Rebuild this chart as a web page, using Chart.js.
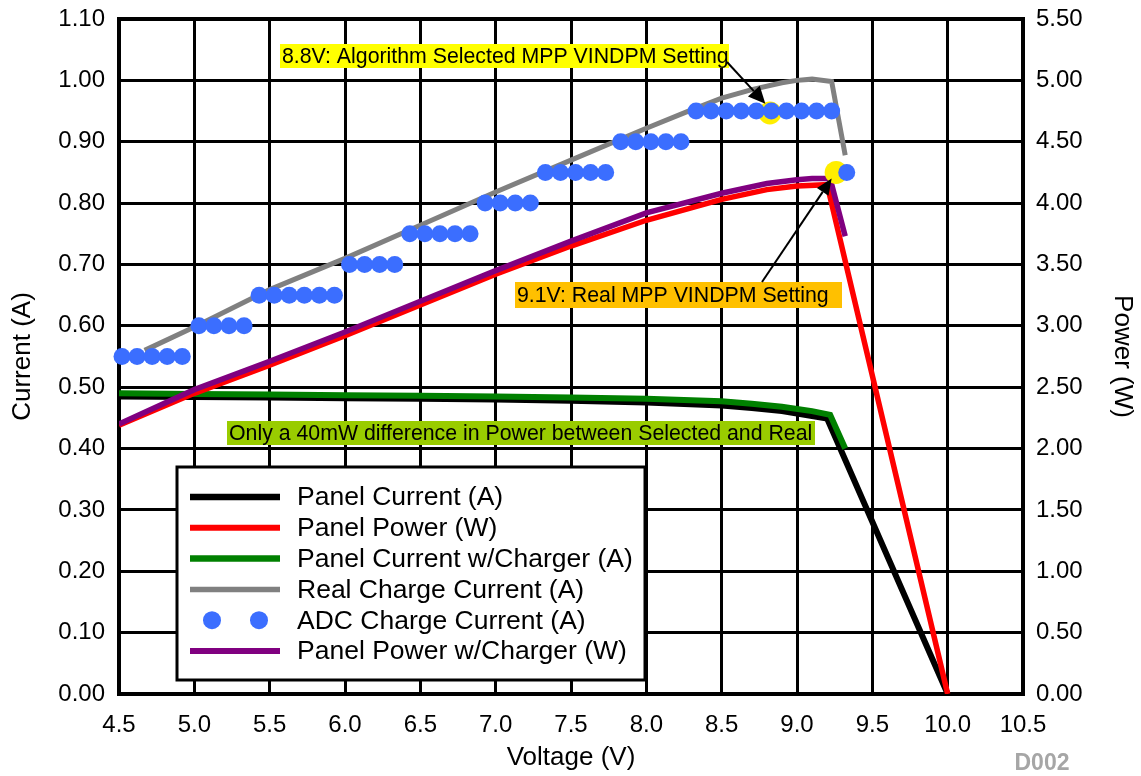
<!DOCTYPE html>
<html>
<head>
<meta charset="utf-8">
<script src="https://cdn.jsdelivr.net/npm/chart.js@4.4.1/dist/chart.umd.min.js"></script>
<style>
html, body { margin: 0; padding: 0; background: #ffffff; }
canvas { display: block; }
</style>
</head>
<body>
<canvas id="chart" width="1141" height="776"></canvas>
<script>
const FONT = "'Liberation Sans', Arial, Helvetica, sans-serif";

// ---- tick labels ----
const voltageTicks = ['4.5', '5.0', '5.5', '6.0', '6.5', '7.0', '7.5', '8.0', '8.5', '9.0', '9.5', '10.0', '10.5'];
const currentTicks = ['0.00', '0.10', '0.20', '0.30', '0.40', '0.50', '0.60', '0.70', '0.80', '0.90', '1.00', '1.10'];
const powerTicks = ['0.00', '0.50', '1.00', '1.50', '2.00', '2.50', '3.00', '3.50', '4.00', '4.50', '5.00', '5.50'];

// ---- Panel Current (A) ----
const panelCurrentV = [4.5, 5.0, 5.5, 6.0, 6.5, 7.0, 7.5, 8.0, 8.5, 8.7, 8.9, 9.1, 9.2, 10.0];
const panelCurrentA = [0.485, 0.484, 0.483, 0.482, 0.481, 0.480, 0.478, 0.475, 0.470, 0.466, 0.461, 0.453, 0.449, 0.0];

// ---- Panel Power (W) ----
const panelPowerV = [4.5, 5.0, 5.5, 6.0, 6.5, 7.0, 7.5, 8.0, 8.5, 8.8, 9.0, 9.2, 10.0];
const panelPowerW = [2.19, 2.45, 2.68, 2.92, 3.17, 3.42, 3.65, 3.86, 4.03, 4.11, 4.14, 4.15, 0.0];

// ---- Panel Current w/Charger (A) ----
const chgCurrentV = [4.5, 5.0, 5.5, 6.0, 6.5, 7.0, 7.5, 8.0, 8.5, 8.7, 8.9, 9.1, 9.22, 9.32];
const chgCurrentA = [0.490, 0.489, 0.488, 0.487, 0.486, 0.485, 0.483, 0.481, 0.477, 0.473, 0.468, 0.461, 0.455, 0.400];

// ---- Real Charge Current (A) ----
const realChargeV = [4.67, 5.0, 5.5, 6.0, 6.5, 7.0, 7.5, 8.0, 8.3, 8.5, 8.7, 8.9, 9.0, 9.1, 9.23, 9.32];
const realChargeA = [0.560, 0.598, 0.659, 0.710, 0.764, 0.818, 0.870, 0.922, 0.952, 0.971, 0.985, 0.996, 1.000, 1.002, 0.998, 0.878];

// ---- ADC Charge Current (A) ----
const adcV = [4.52, 4.62, 4.72, 4.82, 4.92,
              5.03, 5.13, 5.23, 5.33,
              5.43, 5.53, 5.63, 5.73, 5.83, 5.93,
              6.03, 6.13, 6.23, 6.33,
              6.43, 6.53, 6.63, 6.73, 6.83,
              6.93, 7.03, 7.13, 7.23,
              7.33, 7.43, 7.53, 7.63, 7.73,
              7.83, 7.93, 8.03, 8.13, 8.23,
              8.33, 8.43, 8.53, 8.63, 8.73, 8.83, 8.93, 9.03, 9.13, 9.23,
              9.33];
const adcA = [0.55, 0.55, 0.55, 0.55, 0.55,
              0.60, 0.60, 0.60, 0.60,
              0.65, 0.65, 0.65, 0.65, 0.65, 0.65,
              0.70, 0.70, 0.70, 0.70,
              0.75, 0.75, 0.75, 0.75, 0.75,
              0.80, 0.80, 0.80, 0.80,
              0.85, 0.85, 0.85, 0.85, 0.85,
              0.90, 0.90, 0.90, 0.90, 0.90,
              0.95, 0.95, 0.95, 0.95, 0.95, 0.95, 0.95, 0.95, 0.95, 0.95,
              0.85];

// ---- Panel Power w/Charger (W) ----
const chgPowerV = [4.5, 5.0, 5.5, 6.0, 6.5, 7.0, 7.5, 8.0, 8.5, 8.8, 9.0, 9.1, 9.22, 9.32];
const chgPowerW = [2.20, 2.48, 2.71, 2.95, 3.20, 3.45, 3.69, 3.92, 4.08, 4.16, 4.19, 4.20, 4.20, 3.73];

// ---- highlighted MPP setting points (A) ----
const mppV = [8.82, 9.26];
const mppA = [0.947, 0.850];

// ---- annotation texts ----
const noteSelected = '8.8V: Algorithm Selected MPP VINDPM Setting';
const noteReal = '9.1V: Real MPP VINDPM Setting';
const noteDiff = 'Only a 40mW difference in Power between Selected and Real';
const selectedArrowTip = [8.79, 0.962];
const realArrowTip = [9.23, 0.840];

const pts = (xs, ys) => xs.map((x, i) => ({ x: x, y: ys[i] }));

const datasets = [
  { label: 'Panel Current (A)', data: pts(panelCurrentV, panelCurrentA), yAxisID: 'y',
    borderColor: '#000000', borderWidth: 6, pointRadius: 0, order: 7, legendKind: 'line' },
  { label: 'Panel Power (W)', data: pts(panelPowerV, panelPowerW), yAxisID: 'y1',
    borderColor: '#FF0000', borderWidth: 5.5, pointRadius: 0, order: 4, legendKind: 'line' },
  { label: 'Panel Current w/Charger (A)', data: pts(chgCurrentV, chgCurrentA), yAxisID: 'y',
    borderColor: '#008000', borderWidth: 6, pointRadius: 0, order: 6, legendKind: 'line' },
  { label: 'Real Charge Current (A)', data: pts(realChargeV, realChargeA), yAxisID: 'y',
    borderColor: '#808080', borderWidth: 5, pointRadius: 0, order: 5, legendKind: 'line' },
  { label: 'ADC Charge Current (A)', data: pts(adcV, adcA), yAxisID: 'y',
    showLine: false, pointRadius: 8.5, pointBackgroundColor: '#3B6EFF', pointBorderWidth: 0,
    pointBorderColor: '#3B6EFF', borderColor: '#3B6EFF', backgroundColor: '#3B6EFF', order: 1, clip: 14, legendKind: 'dot' },
  { label: 'Panel Power w/Charger (W)', data: pts(chgPowerV, chgPowerW), yAxisID: 'y1',
    borderColor: '#800080', borderWidth: 5.5, pointRadius: 0, order: 3, legendKind: 'line' },
  { label: 'MPP settings', data: pts(mppV, mppA), yAxisID: 'y',
    showLine: false, pointRadius: 11.5, pointBackgroundColor: '#FFEE00', pointBorderWidth: 0,
    borderColor: '#FFEE00', order: 2, clip: 14, legendKind: 'none' }
];
datasets.forEach(d => { d.tension = 0; d.fill = false; d.pointHoverRadius = d.pointRadius; });

const framePlugin = {
  id: 'frame',
  beforeDatasetsDraw(chart) {
    const { ctx, chartArea: a } = chart;
    ctx.save();
    ctx.strokeStyle = '#000000';
    ctx.lineWidth = 4;
    ctx.strokeRect(a.left, a.top, a.right - a.left, a.bottom - a.top);
    ctx.restore();
  }
};

function arrow(ctx, x0, y0, x1, y1, lw, headLen, headHalf) {
  const ang = Math.atan2(y1 - y0, x1 - x0);
  const bx = x1 - headLen * Math.cos(ang), by = y1 - headLen * Math.sin(ang);
  ctx.beginPath();
  ctx.moveTo(x0, y0);
  ctx.lineTo(bx, by);
  ctx.lineWidth = lw;
  ctx.strokeStyle = '#000000';
  ctx.stroke();
  ctx.beginPath();
  ctx.moveTo(x1, y1);
  ctx.lineTo(bx + headHalf * Math.sin(ang), by - headHalf * Math.cos(ang));
  ctx.lineTo(bx - headHalf * Math.sin(ang), by + headHalf * Math.cos(ang));
  ctx.closePath();
  ctx.fillStyle = '#000000';
  ctx.fill();
}

const overlayPlugin = {
  id: 'overlay',
  afterDraw(chart) {
    const ctx = chart.ctx;
    const sx = chart.scales.x, sy = chart.scales.y;
    ctx.save();

    // legend box
    const L = { x: 177, y: 467, w: 468, h: 213 };
    ctx.fillStyle = '#ffffff';
    ctx.fillRect(L.x, L.y, L.w, L.h);
    ctx.lineWidth = 3;
    ctx.strokeStyle = '#000000';
    ctx.strokeRect(L.x, L.y, L.w, L.h);
    ctx.font = '26.5px ' + FONT;
    ctx.textBaseline = 'middle';
    ctx.textAlign = 'left';
    let row = 0;
    chart.data.datasets.forEach(d => {
      if (d.legendKind === 'none') return;
      const yy = 497 + 30.8 * row;
      if (d.legendKind === 'dot') {
        ctx.fillStyle = d.pointBackgroundColor;
        [212, 259].forEach(cx => { ctx.beginPath(); ctx.arc(cx, yy, 9, 0, Math.PI * 2); ctx.fill(); });
      } else {
        ctx.beginPath();
        ctx.moveTo(190, yy);
        ctx.lineTo(280, yy);
        ctx.lineWidth = d.borderWidth + 0.5;
        ctx.strokeStyle = d.borderColor;
        ctx.stroke();
      }
      ctx.fillStyle = '#000000';
      ctx.fillText(d.label, 297, yy + 1);
      row++;
    });

    // annotation boxes
    ctx.font = '21.3px ' + FONT;
    const boxes = [
      { t: noteSelected, x: 280, y: 44, w: 449, h: 24, c: '#FFFF00' },
      { t: noteReal, x: 515, y: 282, w: 327, h: 26, c: '#FFC000' },
      { t: noteDiff, x: 227, y: 421, w: 588, h: 24, c: '#99CC00' }
    ];
    boxes.forEach(b => {
      ctx.fillStyle = b.c;
      ctx.fillRect(b.x, b.y, b.w, b.h);
      ctx.fillStyle = '#000000';
      ctx.fillText(b.t, b.x + 2, b.y + b.h / 2 + 1);
    });

    // arrows
    arrow(ctx, 727, 62, sx.getPixelForValue(selectedArrowTip[0]), sy.getPixelForValue(selectedArrowTip[1]), 2, 17, 8);
    arrow(ctx, 762, 282, sx.getPixelForValue(realArrowTip[0]), sy.getPixelForValue(realArrowTip[1]), 2, 16, 7);

    // figure id
    ctx.font = 'bold 23px ' + FONT;
    ctx.fillStyle = '#A6A6A6';
    ctx.textAlign = 'center';
    ctx.fillText('D002', 1042, 764);
    ctx.restore();
  }
};

const tickFont = { family: FONT, size: 24 };
const titleFont = { family: FONT, size: 26 };

new Chart(document.getElementById('chart'), {
  type: 'line',
  data: { datasets: datasets },
  options: {
    responsive: false,
    animation: false,
    devicePixelRatio: 1,
    layout: { padding: { top: 19, left: 0, right: 0, bottom: 0 } },
    plugins: { legend: { display: false }, tooltip: { enabled: false } },
    events: [],
    scales: {
      x: {
        type: 'linear', position: 'bottom', min: 4.5, max: 10.5,
        ticks: { stepSize: 0.5, autoSkip: false, maxRotation: 0, padding: 17, color: '#000', font: tickFont,
                 callback: (v, i) => voltageTicks[i] },
        grid: { color: '#000000', lineWidth: 3, drawTicks: false },
        border: { display: false },
        title: { display: true, text: 'Voltage (V)', color: '#000', font: titleFont, padding: { top: 0, bottom: 3 } },
        afterFit: s => { s.height = 82; s.paddingLeft = 0; s.paddingRight = 0; }
      },
      y: {
        type: 'linear', position: 'left', min: 0, max: 1.1,
        ticks: { stepSize: 0.1, autoSkip: false, padding: 14, color: '#000', font: tickFont,
                 callback: (v, i) => currentTicks[i] },
        grid: { color: '#000000', lineWidth: 3, drawTicks: false },
        border: { display: false },
        title: { display: true, text: 'Current (A)', color: '#000', font: titleFont, padding: { top: 7, bottom: 0 } },
        afterFit: s => { s.width = 119; s.paddingTop = 0; s.paddingBottom = 0; }
      },
      y1: {
        type: 'linear', position: 'right', min: 0, max: 5.5,
        ticks: { stepSize: 0.5, autoSkip: false, padding: 13, color: '#000', font: tickFont,
                 callback: (v, i) => powerTicks[i] },
        grid: { display: false, drawTicks: false },
        border: { display: false },
        title: { display: true, text: 'Power (W)', color: '#000', font: titleFont, padding: { top: 3, bottom: 0 } },
        afterFit: s => { s.width = 118; s.paddingTop = 0; s.paddingBottom = 0; }
      }
    }
  },
  plugins: [framePlugin, overlayPlugin]
});
</script>
</body>
</html>
